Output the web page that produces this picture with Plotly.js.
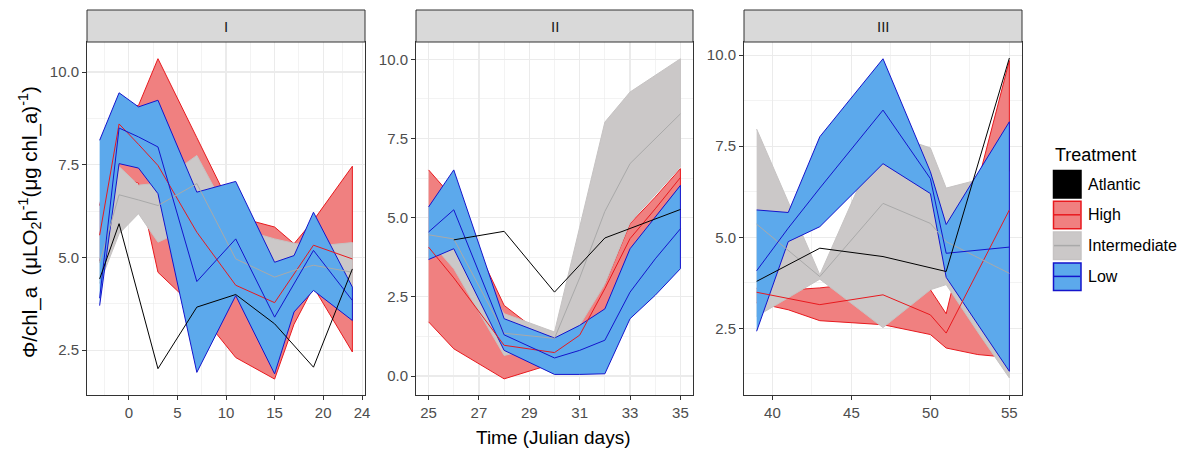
<!DOCTYPE html>
<html>
<head>
<meta charset="utf-8">
<script src="https://cdn.plot.ly/plotly-3.0.1.min.js"></script>
<style>html,body{margin:0;padding:0;background:#fff;}#chart{width:1189px;height:450px;}</style>
</head>
<body>
<div id="chart"></div>
<script>
// ---------------- DATA ----------------
const treatments = ['Atlantic', 'High', 'Intermediate', 'Low'];
const panelNames = ['I', 'II', 'III'];

// Panel I
const p1AtlanticX = [-3, -1, 3, 7, 11, 15, 19, 23];
const p1AtlanticY = [4.42, 5.91, 2.0, 3.66, 4.0, 3.21, 2.04, 4.69];
const p1HighX = [-3, -1, 1, 3, 7, 11, 15, 17, 19, 23];
const p1HighMean = [5.6, 8.6, 8.05, 7.48, 5.68, 4.25, 3.78, 4.55, 5.33, 4.96];
const p1HighHi = [6.4, 9.0, 9.1, 10.36, 8.23, 6.1, 5.82, 5.37, 6.0, 7.46];
const p1HighLo = [4.9, 7.2, 7.0, 4.6, 3.6, 2.3, 1.72, 3.2, 4.2, 2.45];
const p1InterX = [-3, -1, 1, 3, 7, 11, 15, 17, 19, 23];
const p1InterMean = [4.86, 6.69, 6.55, 6.4, 6.99, 4.96, 4.47, 4.65, 4.79, 4.6];
const p1InterHi = [5.6, 7.45, 6.95, 7.0, 7.75, 5.8, 5.5, 5.38, 5.3, 5.4];
const p1InterLo = [4.3, 5.64, 6.18, 5.41, 5.9, 4.2, 3.7, 3.9, 4.3, 3.9];
const p1LowX = [-3, -1, 1, 3, 7, 11, 15, 17, 19, 23];
const p1LowMean = [3.9, 8.49, 8.25, 7.98, 4.35, 5.5, 3.39, 4.3, 5.19, 3.84];
const p1LowHi = [8.16, 9.44, 9.06, 9.24, 6.76, 7.05, 4.87, 5.05, 6.22, 4.2];
const p1LowLo = [3.7, 7.53, 7.41, 6.72, 1.9, 3.97, 1.86, 3.53, 4.11, 3.3];

// Panel II
const p2AtlanticX = [26, 28, 30, 32, 35];
const p2AtlanticY = [4.3, 4.57, 2.65, 4.36, 5.26];
const p2HighX = [25, 26, 28, 30, 31, 32, 33, 34, 35];
const p2HighMean = [4.07, 3.1, 0.97, 0.74, 1.29, 2.76, 4.34, 5.28, 6.27];
const p2HighHi = [6.51, 5.6, 2.23, 1.0, 1.8, 2.9, 4.81, 5.65, 6.55];
const p2HighLo = [1.71, 0.86, -0.09, 0.4, 0.9, 1.5, 3.9, 5.0, 6.0];
const p2InterX = [25, 26, 28, 30, 31, 32, 33, 35];
const p2InterMean = [4.46, 4.33, 1.35, 1.19, 3.1, 5.2, 6.71, 8.28];
const p2InterHi = [4.6, 4.5, 1.97, 1.39, 4.7, 8.02, 8.97, 10.02];
const p2InterLo = [4.3, 3.39, 0.65, 1.0, 1.6, 2.9, 4.85, 6.6];
const p2LowX = [25, 26, 28, 30, 31, 32, 33, 34, 35];
const p2LowMean = [4.55, 5.25, 1.3, 0.57, 0.81, 1.13, 2.65, 3.7, 4.65];
const p2LowHi = [5.34, 6.51, 1.81, 1.2, 1.6, 2.12, 4.02, 5.02, 6.02];
const p2LowLo = [3.68, 4.02, 0.81, 0.05, 0.05, 0.07, 1.81, 2.55, 3.39];

// Panel III
const p3AtlanticX = [39, 43, 47, 51, 55];
const p3AtlanticY = [3.79, 4.7, 4.47, 4.06, 9.92];
const p3HighX = [39, 41, 43, 47, 50, 51, 53, 55];
const p3HighMean = [3.49, 3.32, 3.15, 3.42, 2.87, 2.37, 4.06, 5.75];
const p3HighHi = [3.6, 3.55, 3.61, 3.8, 3.56, 2.9, 6.5, 9.85];
const p3HighLo = [3.2, 3.01, 2.71, 2.6, 2.33, 1.96, 1.78, 1.7];
const p3InterX = [39, 43, 47, 50, 51, 53, 55];
const p3InterMean = [5.36, 3.92, 5.93, 5.38, 4.88, 4.45, 4.01];
const p3InterHi = [7.97, 3.97, 7.9, 7.45, 6.35, 6.58, 6.8];
const p3InterLo = [2.83, 3.85, 2.52, 3.56, 3.7, 2.4, 1.14];
const p3LowX = [39, 41, 43, 47, 50, 51, 55];
const p3LowMean = [4.08, 5.25, 6.35, 8.49, 6.61, 4.56, 4.73];
const p3LowHi = [5.75, 5.68, 7.76, 9.9, 6.8, 5.35, 8.17];
const p3LowLo = [2.42, 4.88, 5.29, 7.02, 6.2, 3.9, 1.32];

// Tick values
const p1XTicks = [0, 5, 10, 15, 20, 24];
const p1XMinor = [-2.5, 2.5, 7.5, 12.5, 17.5, 22];
const p2XTicks = [25, 27, 29, 31, 33, 35];
const p2XMinor = [26, 28, 30, 32, 34];
const p3XTicks = [40, 45, 50, 55];
const p3XMinor = [42.5, 47.5, 52.5];
const p1YTicks = [2.5, 5, 7.5, 10];
const p2YTicks = [0, 2.5, 5, 7.5, 10];
const p3YTicks = [2.5, 5, 7.5, 10];
const yMinorTicks = [1.25, 3.75, 6.25, 8.75];

// ---------------- STYLE ----------------
const FONT = 'Liberation Sans, Arial, sans-serif';
const style = {
  Atlantic: {fill: '#000000', edge: '#000000', line: '#000000'},
  High: {fill: '#F08080', edge: '#E8191E', line: '#E8191E'},
  Intermediate: {fill: '#CBC8C8', edge: '#C6C3C3', line: '#A9A9A9'},
  Low: {fill: '#5CA9EC', edge: '#1414CC', line: '#1414CC'}
};

const panels = [
  {ax: ['x', 'y'], Atlantic: [p1AtlanticX, p1AtlanticY],
   High: [p1HighX, p1HighMean, p1HighLo, p1HighHi],
   Intermediate: [p1InterX, p1InterMean, p1InterLo, p1InterHi],
   Low: [p1LowX, p1LowMean, p1LowLo, p1LowHi]},
  {ax: ['x2', 'y2'], Atlantic: [p2AtlanticX, p2AtlanticY],
   High: [p2HighX, p2HighMean, p2HighLo, p2HighHi],
   Intermediate: [p2InterX, p2InterMean, p2InterLo, p2InterHi],
   Low: [p2LowX, p2LowMean, p2LowLo, p2LowHi]},
  {ax: ['x3', 'y3'], Atlantic: [p3AtlanticX, p3AtlanticY],
   High: [p3HighX, p3HighMean, p3HighLo, p3HighHi],
   Intermediate: [p3InterX, p3InterMean, p3InterLo, p3InterHi],
   Low: [p3LowX, p3LowMean, p3LowLo, p3LowHi]}
];

const traces = [];
panels.forEach(p => {
  ['High', 'Intermediate', 'Low'].forEach(t => {
    const [xs, m, lo, hi] = p[t];
    traces.push({
      type: 'scatter', mode: 'lines', xaxis: p.ax[0], yaxis: p.ax[1],
      x: xs.concat(xs.slice().reverse()),
      y: hi.concat(lo.slice().reverse()),
      fill: 'toself', fillcolor: style[t].fill,
      line: {color: style[t].edge, width: 1},
      showlegend: false, hoverinfo: 'skip', name: t
    });
  });
  ['High', 'Intermediate', 'Low'].forEach(t => {
    const [xs, m] = p[t];
    traces.push({
      type: 'scatter', mode: 'lines', xaxis: p.ax[0], yaxis: p.ax[1],
      x: xs, y: m, line: {color: style[t].line, width: 1},
      showlegend: false, name: t
    });
  });
  traces.push({
    type: 'scatter', mode: 'lines', xaxis: p.ax[0], yaxis: p.ax[1],
    x: p.Atlantic[0], y: p.Atlantic[1], line: {color: '#000000', width: 1},
    showlegend: false, name: 'Atlantic'
  });
});

// ---------------- LAYOUT ----------------
const W = 1189, H = 450;
const px = v => v / W;
const py = v => 1 - v / H;
const plotTop = 42, plotBottom = 395, stripTop = 10;
const panelX = [[87, 365], [416, 693], [744, 1022]];
const xRanges = [[-4.3, 24.3], [24.5, 35.5], [38.2, 55.8]];
const yRanges = [[1.29, 10.81], [-0.6, 10.55], [0.67, 10.36]];
const xTicks = [p1XTicks, p2XTicks, p3XTicks];
const xMinor = [p1XMinor, p2XMinor, p3XMinor];
const yTicks = [p1YTicks, p2YTicks, p3YTicks];

const layout = {
  width: W, height: H,
  margin: {l: 0, r: 0, t: 0, b: 0},
  paper_bgcolor: '#ffffff', plot_bgcolor: '#ffffff',
  showlegend: false,
  font: {family: FONT, color: '#4D4D4D'},
  shapes: [], annotations: []
};

for (let i = 0; i < 3; i++) {
  const sfx = i === 0 ? '' : String(i + 1);
  const axCommon = {
    showline: true, linecolor: '#333333', linewidth: 1, mirror: true,
    ticks: 'outside', ticklen: 4, tickcolor: '#333333', tickwidth: 1,
    showgrid: true, gridcolor: '#EBEBEB', gridwidth: 1.1, zeroline: false,
    tickfont: {family: FONT, size: 15, color: '#4D4D4D'},
    fixedrange: true
  };
  layout['xaxis' + sfx] = Object.assign({}, axCommon, {
    domain: [px(panelX[i][0]), px(panelX[i][1])],
    anchor: 'y' + sfx, range: xRanges[i],
    tickmode: 'array', tickvals: xTicks[i],
    minor: {tickmode: 'array', tickvals: xMinor[i], showgrid: true, gridcolor: '#EBEBEB', gridwidth: 0.6, ticks: ''}
  });
  layout['yaxis' + sfx] = Object.assign({}, axCommon, {
    domain: [py(plotBottom), py(plotTop)],
    anchor: 'x' + sfx, range: yRanges[i],
    tickmode: 'array', tickvals: yTicks[i], tickformat: '.1f',
    minor: {tickmode: 'array', tickvals: yMinorTicks, showgrid: true, gridcolor: '#EBEBEB', gridwidth: 0.6, ticks: ''}
  });
  // facet strip
  layout.shapes.push({
    type: 'rect', xref: 'paper', yref: 'paper',
    x0: px(panelX[i][0]), x1: px(panelX[i][1]), y0: py(plotTop), y1: py(stripTop),
    fillcolor: '#D9D9D9', line: {color: '#333333', width: 1}
  });
  layout.annotations.push({
    xref: 'paper', yref: 'paper', x: px((panelX[i][0] + panelX[i][1]) / 2), y: py((plotTop + stripTop) / 2),
    text: panelNames[i], showarrow: false, xanchor: 'center', yanchor: 'middle',
    font: {family: FONT, size: 15, color: '#1A1A1A'}
  });
}

// axis titles
layout.annotations.push({
  xref: 'paper', yref: 'paper', x: px(553), y: py(437),
  text: 'Time (Julian days)', showarrow: false, xanchor: 'center', yanchor: 'middle',
  font: {family: FONT, size: 19, color: '#000000'}
});
layout.annotations.push({
  xref: 'paper', yref: 'paper', x: px(29), y: py(222),
  text: 'Φ/chl_a  (μLO<sub>2</sub>h<sup>-1</sup>(μg chl_a)<sup>-1</sup>)', textangle: -90,
  showarrow: false, xanchor: 'center', yanchor: 'middle',
  font: {family: FONT, size: 20.5, color: '#000000'}
});

// legend (drawn manually as ggplot-style keys)
const legLeft = 1053, keySize = 28, keyTop0 = 170, keyStep = 30.8;
layout.annotations.push({
  xref: 'paper', yref: 'paper', x: px(legLeft), y: py(155),
  text: 'Treatment', showarrow: false, xanchor: 'left', yanchor: 'middle',
  font: {family: FONT, size: 18, color: '#000000'}
});
treatments.forEach((t, k) => {
  const top = keyTop0 + k * keyStep;
  layout.shapes.push({
    type: 'rect', xref: 'paper', yref: 'paper',
    x0: px(legLeft + 0.5), x1: px(legLeft + keySize), y0: py(top + keySize), y1: py(top + 0.5),
    fillcolor: style[t].fill, line: {color: style[t].edge, width: 1.5}
  });
  if (t !== 'Atlantic') {
    layout.shapes.push({
      type: 'line', xref: 'paper', yref: 'paper',
      x0: px(legLeft + 1), x1: px(legLeft + keySize - 1), y0: py(top + keySize / 2), y1: py(top + keySize / 2),
      line: {color: style[t].line, width: 1.5}
    });
  }
  layout.annotations.push({
    xref: 'paper', yref: 'paper', x: px(legLeft + keySize + 5), y: py(top + keySize / 2),
    text: t, showarrow: false, xanchor: 'left', yanchor: 'middle',
    font: {family: FONT, size: 16, color: '#000000'}
  });
});

Plotly.newPlot('chart', traces, layout, {displayModeBar: false, staticPlot: true});
</script>
</body>
</html>
